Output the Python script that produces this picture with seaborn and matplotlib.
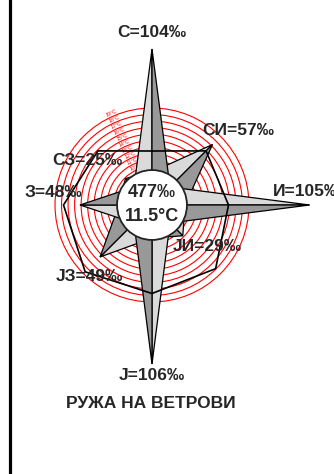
import numpy as np
import pandas as pd
import matplotlib
matplotlib.use("Agg")
import matplotlib.pyplot as plt
from matplotlib.patches import Polygon, Circle
import seaborn as sns

# wind frequency per direction (per mille), clockwise from north
directions = ["С", "СИ", "И", "ЈИ", "Ј", "ЈЗ", "З", "СЗ"]
bearings = [0, 45, 90, 135, 180, 225, 270, 315]
freq = [104, 57, 105, 29, 106, 49, 48, 25]
# second series drawn as the black outline
outline = [36, 51, 51, 60, 59, 63, 59, 51]
calm = "477‰"
mean_temp = "11.5°C"
ring_labels = ["10°C", "11°C", "12°C", "13°C", "14°C", "15°C", "16°C", "17°C", "18°C", "19°C"]
title = "РУЖА НА ВЕТРОВИ"

sns.set_theme(style="white")
plt.rcParams['font.family'] = ['Liberation Sans', 'DejaVu Sans']

W, H = 334, 474
cx, cy = 152, 205      # rose centre in pixels
px = 1.5               # pixels per unit

fig = plt.figure(figsize=(W / 100, H / 100), dpi=100)
ax = fig.add_axes([0, 0, 1, 1])
ax.set_xlim(-cx / px, (W - cx) / px)
ax.set_ylim(-(H - cy) / px, cy / px)
ax.axis("off")


def pt(b, r):
    t = np.radians(b)
    return np.array([r * np.sin(t), r * np.cos(t)])


def arm_pt(b, along, across):
    return pt(b, along) + pt(b + 90, across)


# red rings
r0, step = 25.5, 4.35
for i, lab in enumerate(ring_labels):
    r = r0 + i * step
    ax.add_patch(Circle((0, 0), r, fill=False, ec="red", lw=0.8, zorder=1))
    p = pt(336, r + 2)
    ax.text(p[0], p[1], lab, color="red", fontsize=3.8, rotation=24,
            ha="center", va="center", zorder=1)

light, dark = "#dadada", "#999999"


def draw_arm(b, length, along, across):
    tip = pt(b, length)
    o = np.zeros(2)
    ccw = arm_pt(b, along, -across)
    cw = arm_pt(b, along, across)
    ax.add_patch(Polygon([o, tip, ccw], closed=True, fc=light, ec="black", lw=0.9, zorder=2))
    ax.add_patch(Polygon([o, tip, cw], closed=True, fc=dark, ec="black", lw=0.9, zorder=2))


# diagonal points first, then the cardinal ones
for b, f in zip(bearings, freq):
    if b % 90:
        draw_arm(b, f, 15.6, 15.6)
for b, f in zip(bearings, freq):
    if b % 90 == 0:
        draw_arm(b, f, 12, 12)

# black outline series
pts = np.array([pt(b, v) for b, v in zip(bearings, outline)])
pts = np.vstack([pts, pts[:1]])
df = pd.DataFrame({"x": pts[:, 0], "y": pts[:, 1]})
sns.lineplot(data=df, x="x", y="y", sort=False, estimator=None, color="black",
             lw=1.2, ax=ax, zorder=3)
ax.axis("off")

# centre disc
ax.add_patch(Circle((0, 0), 23.3, fc="white", ec="#222222", lw=1.3, zorder=4))
ax.text(0, 12 / px, calm, fontsize=13, fontweight="bold", ha="center", va="center", zorder=5)
ax.text(0, -12 / px, mean_temp, fontsize=13, fontweight="bold", ha="center", va="center", zorder=5)

# direction labels, offsets from each tip in pixels
offsets = [(0, 16, "center"), (26, 14, "center"), (-37, 13, "left"), (25, -11, "center"),
           (0, -12, "center"), (-11, -20, "center"), (-27, 12, "center"), (-38, 18, "center")]
for d, b, f, (dx, dy, ha) in zip(directions, bearings, freq, offsets):
    tip = pt(b, f)
    ax.annotate(f"{d}={f}‰", xy=tip, xytext=(dx * 0.72, dy * 0.72), textcoords="offset points",
                fontsize=12.5, fontweight="bold", ha=ha, va="center", zorder=6,
                annotation_clip=False)

fig.text(151 / W, 1 - 403 / H, title, fontsize=12.5, fontweight="bold", ha="center", va="center")

ax.axvline((9.5 - cx) / px, color="black", lw=2.3)

fig.savefig("out.png", dpi=100)
